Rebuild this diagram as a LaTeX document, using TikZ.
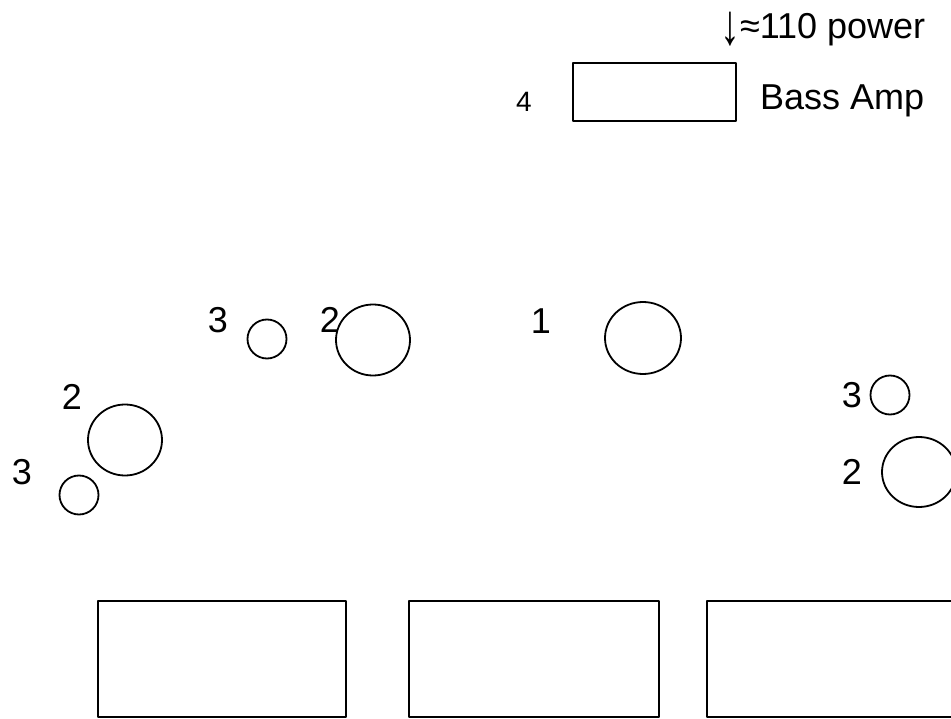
\documentclass[tikz,border=0pt]{standalone}
\usepackage{fontspec}
\usepackage{graphicx}
\setmainfont{Liberation Sans}
\usetikzlibrary{calc}
\usepackage{tkz-euclide}

\tikzset{
  num/.style={font=\fontsize{36}{40}\selectfont,inner sep=0pt},
  small num/.style={font=\fontsize{28}{32}\selectfont,inner sep=0pt},
  word/.style={font=\fontsize{36}{40}\selectfont,inner sep=0pt,anchor=base west},
  spk/.style={line width=1.8pt,color=black}
}

\begin{document}
\begin{tikzpicture}[x=1pt,y=-1pt]
\useasboundingbox (0,0) rectangle (951,719);
\clip (0,0) rectangle (951,719);
\tkzSetUpLine[line width=1.8pt,color=black]

% bass amp and the three boxes at the bottom
\tkzDefPoints{573/63/P1,736/63/P2,736/121/P3,573/121/P4}
\tkzDefPoints{98/601/A1,346/601/A2,346/717/A3,98/717/A4}
\tkzDefPoints{409/601/B1,659/601/B2,659/717/B3,409/717/B4}
\tkzDefPoints{707/601/D1,990/601/D2,990/717/D3,707/717/D4}

\tkzDrawPolygon(P1,P2,P3,P4)
\tkzDrawPolygon(A1,A2,A3,A4)
\tkzDrawPolygon(B1,B2,B3,B4)
\tkzDrawPolygon(D1,D2,D3,D4)

% speakers
\tkzDefPoints{643/338/S1,373/340/S2,125/440/S3,919/472/S4}
\tkzDefPoints{267/339/T1,79/495/T2,890/395/T3}

\draw[spk] (S1) ellipse [x radius=38,y radius=36];
\draw[spk] (S2) ellipse [x radius=37,y radius=35.5];
\draw[spk] (S3) ellipse [x radius=37,y radius=35.5];
\draw[spk] (S4) ellipse [x radius=37,y radius=35];
\draw[spk] (T1) circle [radius=19.5];
\draw[spk] (T2) circle [radius=19.5];
\draw[spk] (T3) circle [radius=19.5];

% labels
\node[num] (n1) at (541,321) {1};
\node[num] (n2a) at (330,320) {2};
\node[num] (n3a) at (218,320) {3};
\node[num] (n2b) at (72,397) {2};
\node[num] (n3b) at (22,472) {3};
\node[num] (n3c) at (852,395) {3};
\node[num] (n2c) at (852,472) {2};
\node[small num] (n4) at (524,102) {4};

\node[word] (amp) at (760,110) {Bass Amp};
\node[word] (pwr) at (720,39) {\raisebox{-6pt}{\scalebox{1.1}[1.6]{↓}}≈110 power};

\end{tikzpicture}
\end{document}
